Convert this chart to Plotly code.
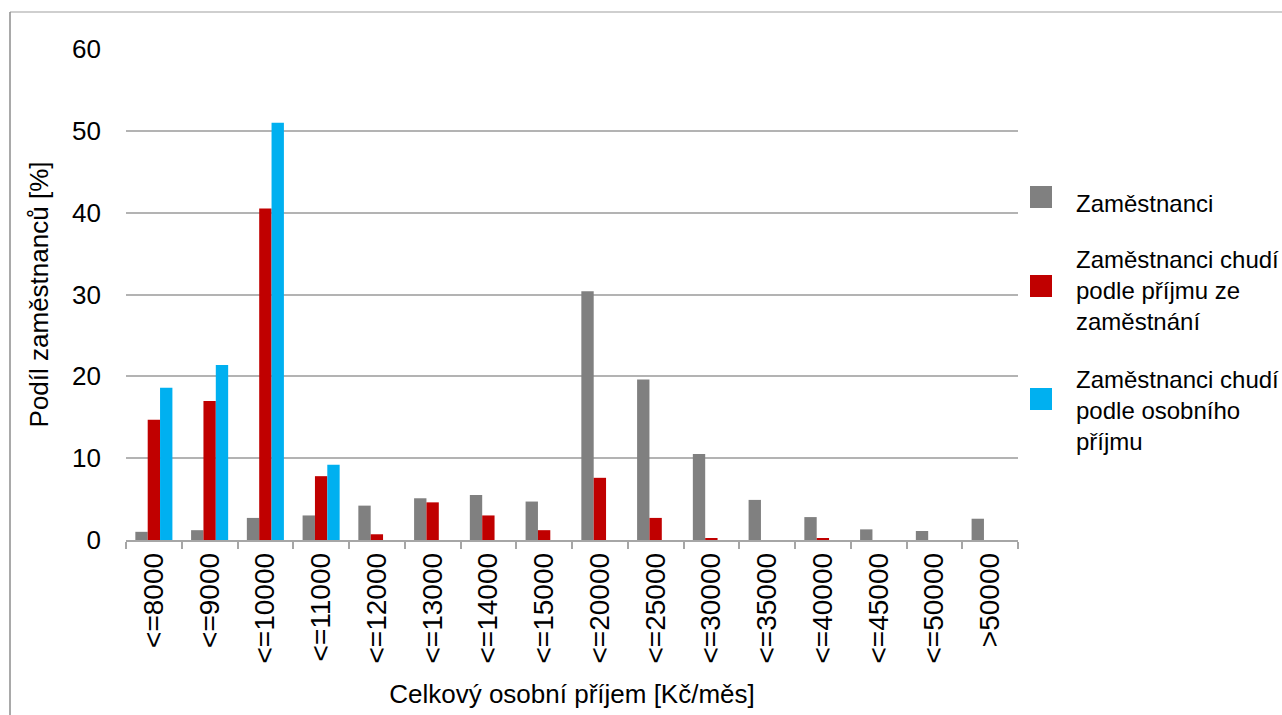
import plotly.graph_objects as go

# Income bands (total personal income, CZK per month)
categories = ["<=8000", "<=9000", "<=10000", "<=11000", "<=12000", "<=13000",
              "<=14000", "<=15000", "<=20000", "<=25000", "<=30000", "<=35000",
              "<=40000", "<=45000", "<=50000", ">50000"]

# Share of employees in each band [%]
zamestnanci = [1.0, 1.2, 2.7, 3.0, 4.2, 5.1, 5.5, 4.7, 30.4, 19.6, 10.5, 4.9,
               2.8, 1.3, 1.1, 2.6]
chudi_zamestnani = [14.7, 17.0, 40.5, 7.8, 0.7, 4.6, 3.0, 1.2, 7.6, 2.7, 0.2, 0.0,
                    0.15, 0.0, 0.0, 0.0]
chudi_osobni = [18.6, 21.4, 51.0, 9.2, 0, 0, 0, 0, 0, 0, 0, 0, 0, 0, 0, 0]

series_names = ["Zaměstnanci",
                "Zaměstnanci chudí<br>podle příjmu ze<br>zaměstnání",
                "Zaměstnanci chudí<br>podle osobního<br>příjmu"]
series_colors = ["#808080", "#C00000", "#00B0F0"]

W, H = 1282, 715
L, R, T, B = 126, 264, 49, 175
PW, PH = W - L - R, H - T - B


def px_x(px):
    return (px - L) / PW


def px_y(py):
    return (H - B - py) / PH


FONT = "Liberation Sans, Arial, sans-serif"

fig = go.Figure()
for name, vals, col in zip(series_names, [zamestnanci, chudi_zamestnani, chudi_osobni],
                           series_colors):
    fig.add_trace(go.Bar(x=categories, y=vals, name=name.replace("<br>", " "),
                         marker=dict(color=col, line=dict(width=0)),
                         showlegend=False))

# Legend drawn as colored squares with text next to them
legend_marker_cy = [197, 286, 399]
legend_text_cy = [203, 290, 410]
shapes = []
annotations = []
for name, col, mcy, tcy in zip(series_names, series_colors, legend_marker_cy, legend_text_cy):
    shapes.append(dict(type="rect", xref="paper", yref="paper",
                       x0=px_x(1030), x1=px_x(1052), y0=px_y(mcy + 11), y1=px_y(mcy - 11),
                       fillcolor=col, line=dict(width=0)))
    annotations.append(dict(xref="paper", yref="paper", x=px_x(1074), y=px_y(tcy),
                            xanchor="left", yanchor="middle", align="left",
                            showarrow=False, text=name,
                            font=dict(family=FONT, size=24, color="#000000")))

# Outer frame of the chart area
shapes.append(dict(type="line", xref="paper", yref="paper",
                   x0=px_x(10), x1=px_x(1282), y0=px_y(12), y1=px_y(12),
                   line=dict(color="#bfbfbf", width=1.5)))
shapes.append(dict(type="line", xref="paper", yref="paper",
                   x0=px_x(10), x1=px_x(10), y0=px_y(12), y1=px_y(715),
                   line=dict(color="#8c8c8c", width=1.5)))

fig.update_layout(
    width=W, height=H,
    margin=dict(l=L, r=R, t=T, b=B, autoexpand=False),
    paper_bgcolor="white", plot_bgcolor="white",
    barmode="group", bargap=0.335, bargroupgap=0,
    font=dict(family=FONT, color="#000000"),
    shapes=shapes, annotations=annotations,
    xaxis=dict(
        type="category",
        tickangle=-90,
        tickfont=dict(family=FONT, size=28),
        ticks="outside", tickson="boundaries", ticklen=7, tickwidth=1.5,
        tickcolor="#a6a6a6",
        showline=True, linecolor="#a6a6a6", linewidth=1.5,
        showgrid=False,
        title=dict(text="Celkový osobní příjem [Kč/měs]",
                   font=dict(family=FONT, size=26), standoff=22),
    ),
    yaxis=dict(
        range=[0, 60], dtick=10, tick0=0,
        tickfont=dict(family=FONT, size=26),
        showgrid=True, gridcolor="#b3b3b3", gridwidth=1.5,
        showline=False, zeroline=False,
        ticks="", ticklabelstandoff=24,
        title=dict(text="Podíl zaměstnanců [%]",
                   font=dict(family=FONT, size=26), standoff=15),
    ),
)

fig.write_html("out.html")
